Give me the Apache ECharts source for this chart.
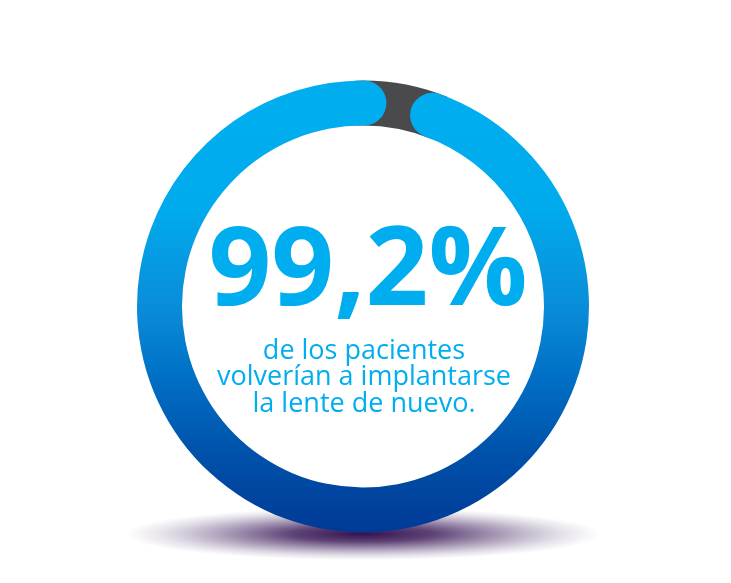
<!DOCTYPE html>
<html>
<head>
<meta charset="utf-8">
<script src="https://cdn.jsdelivr.net/npm/echarts@6/dist/echarts.min.js"></script>
<style>
html,body{margin:0;padding:0;background:#fff;}
#main{width:731px;height:583px;}
</style>
</head>
<body>
<div id="main"></div>
<script>
// Data
const percentValue = 99.2;
const remainderValue = 100 - percentValue;
const subtitleLines = ['de los pacientes', 'volverían a implantarse', 'la lente de nuevo.'];

const CX = 363, CY = 306.5, R = 226, W = 45;
const cyan = '#00aeef';
const font = "'Open Sans', sans-serif";

const ringGradient = new echarts.graphic.LinearGradient(0, 0, 0, 1, [
  { offset: 0, color: '#00aeef' },
  { offset: 0.28, color: '#00abed' },
  { offset: 0.5, color: '#0a8dd8' },
  { offset: 0.65, color: '#0071c6' },
  { offset: 0.82, color: '#0052ab' },
  { offset: 1, color: '#003a96' }
]);

const shadowGradient = new echarts.graphic.RadialGradient(0.5, 0.5, 0.5, [
  { offset: 0, color: 'rgba(40,5,70,0.95)' },
  { offset: 0.3, color: 'rgba(50,15,80,0.78)' },
  { offset: 0.6, color: 'rgba(65,35,95,0.42)' },
  { offset: 0.85, color: 'rgba(90,70,120,0.14)' },
  { offset: 1, color: 'rgba(90,70,120,0)' }
]);

const chart = echarts.init(document.getElementById('main'), null, { renderer: 'canvas' });

const hidden = {
  pointer: { show: false },
  anchor: { show: false },
  axisTick: { show: false },
  splitLine: { show: false },
  axisLabel: { show: false }
};

chart.setOption({
  backgroundColor: '#ffffff',
  animation: false,
  graphic: [{
    type: 'circle',
    z: 0,
    x: CX,
    y: 534,
    scaleX: 1,
    scaleY: 0.11,
    shape: { cx: 0, cy: 0, r: 238 },
    style: { fill: shadowGradient }
  }],
  series: [
    Object.assign({
      type: 'gauge',
      z: 2,
      center: [CX, CY],
      radius: R,
      startAngle: 92,
      endAngle: 68,
      min: 0,
      max: remainderValue,
      axisLine: { show: true, roundCap: false, lineStyle: { width: W, color: [[1, '#4a4a4d']] } },
      progress: { show: false },
      title: { show: false },
      detail: { show: false },
      data: [{ value: remainderValue, name: '' }]
    }, hidden),
    Object.assign({
      type: 'gauge',
      z: 3,
      center: [CX, CY],
      radius: R,
      startAngle: 70,
      endAngle: -273,
      min: 0,
      max: 100,
      axisLine: { show: false, lineStyle: { width: W } },
      progress: { show: true, width: W, roundCap: true, itemStyle: { color: ringGradient } },
      title: {
        show: true,
        offsetCenter: [1, 71],
        color: cyan,
        fontFamily: font,
        fontSize: 27,
        lineHeight: 26.5
      },
      detail: {
        show: true,
        offsetCenter: [5, -33],
        color: cyan,
        fontFamily: font,
        fontWeight: 'bold',
        fontSize: 110,
        formatter: function (v) { return v.toFixed(1).replace('.', ',') + '%'; }
      },
      data: [{ value: percentValue, name: subtitleLines.join('\n') }]
    }, hidden)
  ]
});
</script>
</body>
</html>
